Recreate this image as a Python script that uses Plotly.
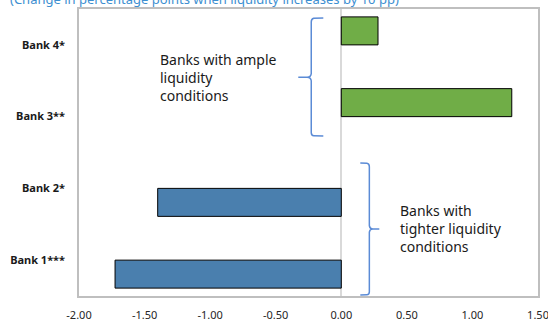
import plotly.graph_objects as go

banks = ["Bank 1***", "Bank 2*", "Bank 3**", "Bank 4*"]
tight_vals = [-1.725, -1.40, None, None]
ample_vals = [None, None, 1.30, 0.28]
x_ticks = [-2.0, -1.5, -1.0, -0.5, 0.0, 0.5, 1.0, 1.5]
x_tick_text = [f"{v:.2f}" for v in x_ticks]

FONT = "Noto Sans"
fig = go.Figure()
fig.add_trace(go.Bar(y=banks, x=tight_vals, orientation="h", name="tighter",
                     marker=dict(color="#4a7fae", line=dict(color="#000000", width=1))))
fig.add_trace(go.Bar(y=banks, x=ample_vals, orientation="h", name="ample",
                     marker=dict(color="#70ad47", line=dict(color="#000000", width=1))))

brace_col = "#5b8bd6"
# upper brace (ample)
fig.add_shape(type="path", xref="x", yref="y",
              path="M -0.137 3.375 L -0.21 3.37 Q -0.229 3.36 -0.229 3.32 L -0.229 2.6 Q -0.232 2.55 -0.26 2.55 L -0.328 2.55 "
                   "M -0.26 2.55 Q -0.232 2.55 -0.229 2.5 L -0.229 1.78 Q -0.229 1.735 -0.21 1.735 L -0.137 1.73",
              line=dict(color=brace_col, width=1.5))
# lower brace (tighter)
fig.add_shape(type="path", xref="x", yref="y",
              path="M 0.145 1.354 L 0.195 1.35 Q 0.214 1.345 0.214 1.3 L 0.214 0.48 Q 0.217 0.434 0.24 0.434 L 0.29 0.434 "
                   "M 0.24 0.434 Q 0.217 0.434 0.214 0.39 L 0.214 -0.44 Q 0.214 -0.48 0.195 -0.482 L 0.145 -0.486",
              line=dict(color=brace_col, width=1.5))

fig.add_annotation(xref="x", yref="y", x=-1.4, y=2.55, xanchor="left", yanchor="middle",
                   text="Banks with ample<br>liquidity<br>conditions", showarrow=False, align="left",
                   font=dict(family=FONT, size=14, color="#1a1a1a"))
fig.add_annotation(xref="x", yref="y", x=0.43, y=0.434, xanchor="left", yanchor="middle",
                   text="Banks with<br>tighter liquidity<br>conditions", showarrow=False, align="left",
                   font=dict(family=FONT, size=14, color="#1a1a1a"))
fig.add_annotation(xref="paper", yref="paper", x=0, y=1, xanchor="left", yanchor="middle",
                   xshift=-71, yshift=10,
                   text="(Change in percentage points when liquidity increases by 10 pp)", showarrow=False,
                   font=dict(family=FONT, size=13, color="#3d8fd1"))

fig.update_layout(
    width=548, height=324, margin=dict(l=79, r=10, t=9, b=28),
    barmode="group", bargap=0.22, bargroupgap=0, showlegend=False,
    plot_bgcolor="white", paper_bgcolor="white",
    font=dict(family=FONT, size=11, color="#262626"),
)
fig.update_xaxes(range=[-2, 1.5], tickvals=x_ticks, ticktext=x_tick_text, showgrid=False,
                 zeroline=True, zerolinecolor="#d9d9d9", zerolinewidth=1.5,
                 showline=True, linecolor="#bfbfbf", linewidth=1.5, mirror=True, automargin=False,
                 ticklabeloverflow="allow",
                 ticks="", ticklabelstandoff=8, tickfont=dict(size=11, color="#262626"))
fig.update_yaxes(categoryorder="array", categoryarray=banks, range=[-0.5, 3.5], showgrid=False,
                 showline=True, linecolor="#bfbfbf", linewidth=1.5, mirror=True, automargin=False,
                 ticks="", ticklabelstandoff=10,
                 tickfont=dict(size=11, color="#1a1a1a", family=FONT, weight="bold"))
fig.write_html("out.html")
